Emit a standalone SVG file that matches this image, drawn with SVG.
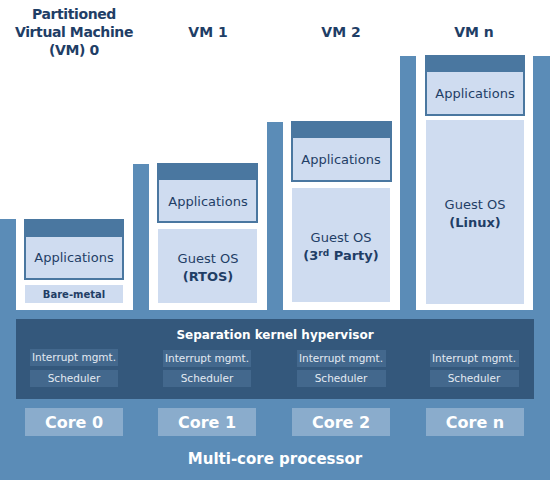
<svg xmlns="http://www.w3.org/2000/svg" width="550" height="480" viewBox="0 0 550 480">
<style>
text{font-family:"DejaVu Sans","Liberation Sans",sans-serif;text-anchor:middle}
.title{font-size:14px;font-weight:bold;fill:#1f3e66}
.tl{letter-spacing:-0.4px}
.app{font-size:13px;fill:#1f3e66}
.b{font-weight:bold}
.hdr{fill:#4a77a0}
.lt{fill:#cfdcf0}
.sm{fill:#43688d}
.smt{font-size:10.5px;fill:#e3eaf2}
.core{fill:#8aaccc}
.coret{font-size:16px;font-weight:bold;fill:#ffffff}
</style>
<rect width="550" height="480" fill="#ffffff"/>
<path d="M0,219 H16 V310 H133 V164 H149 V310 H267 V122 H283 V310 H400 V56 H416 V310 H533 V56 H550 V480 H0 Z" fill="#5b8cb7"/>
<g id="titles">
<text class="title tl" x="74" y="19">Partitioned</text>
<text class="title tl" x="74" y="37">Virtual Machine</text>
<text class="title tl" x="74" y="55">(VM) 0</text>
<text class="title" x="208" y="37">VM 1</text>
<text class="title" x="341" y="37">VM 2</text>
<text class="title" x="474" y="37">VM n</text>
</g>
<g id="vm0">
<rect class="hdr" x="24" y="219" width="100" height="61"/>
<rect class="lt" x="26" y="237" width="96" height="41"/>
<text class="app" x="74" y="262">Applications</text>
<rect class="lt" x="25" y="285" width="98" height="18"/>
<text class="app b" x="74" y="298" style="font-size:10px">Bare-metal</text>
</g>
<g id="vm1">
<rect class="hdr" x="157" y="163" width="101" height="60"/>
<rect class="lt" x="159" y="180" width="97" height="41"/>
<text class="app" x="208" y="206">Applications</text>
<rect class="lt" x="158" y="229" width="99" height="74"/>
<text class="app" x="208" y="263">Guest OS</text>
<text class="app b" x="208" y="281">(RTOS)</text>
</g>
<g id="vm2">
<rect class="hdr" x="291" y="121" width="101" height="61"/>
<rect class="lt" x="293" y="138" width="97" height="42"/>
<text class="app" x="341" y="164">Applications</text>
<rect class="lt" x="292" y="188" width="98" height="114"/>
<text class="app" x="341" y="242">Guest OS</text>
<text class="app b" x="341" y="260">(3<tspan dy="-4" style="font-size:9px">rd</tspan><tspan dy="4"> Party)</tspan></text>
</g>
<g id="vmn">
<rect class="hdr" x="425" y="55" width="100" height="61"/>
<rect class="lt" x="427" y="72" width="96" height="42"/>
<text class="app" x="475" y="98">Applications</text>
<rect class="lt" x="426" y="120" width="98" height="184"/>
<text class="app" x="475" y="209">Guest OS</text>
<text class="app b" x="475" y="227">(Linux)</text>
</g>
<g id="hypervisor">
<rect x="16" y="319" width="518" height="80" fill="#34587c"/>
<text x="275" y="339" style="font-size:12px;font-weight:bold;fill:#ffffff">Separation kernel hypervisor</text>
<rect class="sm" x="30" y="349" width="88" height="17"/>
<text class="smt" x="74" y="361">Interrupt mgmt.</text>
<rect class="sm" x="30" y="370" width="88" height="17"/>
<text class="smt" x="74" y="382">Scheduler</text>
<rect class="sm" x="163" y="350" width="88" height="17"/>
<text class="smt" x="207" y="362">Interrupt mgmt.</text>
<rect class="sm" x="163" y="370" width="88" height="17"/>
<text class="smt" x="207" y="382">Scheduler</text>
<rect class="sm" x="297" y="350" width="89" height="17"/>
<text class="smt" x="341" y="362">Interrupt mgmt.</text>
<rect class="sm" x="297" y="370" width="89" height="17"/>
<text class="smt" x="341" y="382">Scheduler</text>
<rect class="sm" x="430" y="350" width="89" height="17"/>
<text class="smt" x="474" y="362">Interrupt mgmt.</text>
<rect class="sm" x="430" y="370" width="89" height="17"/>
<text class="smt" x="474" y="382">Scheduler</text>
</g>
<g id="cores">
<rect class="core" x="25" y="408" width="98" height="28"/>
<text class="coret" x="74" y="428">Core 0</text>
<rect class="core" x="158" y="408" width="98" height="28"/>
<text class="coret" x="207" y="428">Core 1</text>
<rect class="core" x="292" y="408" width="98" height="28"/>
<text class="coret" x="341" y="428">Core 2</text>
<rect class="core" x="426" y="408" width="98" height="28"/>
<text class="coret" x="475" y="428">Core n</text>
</g>
<g id="processor">
<text x="275" y="464" style="font-size:15px;font-weight:bold;fill:#ffffff">Multi-core processor</text>
</g>
<g id="connectors"/>
</svg>
